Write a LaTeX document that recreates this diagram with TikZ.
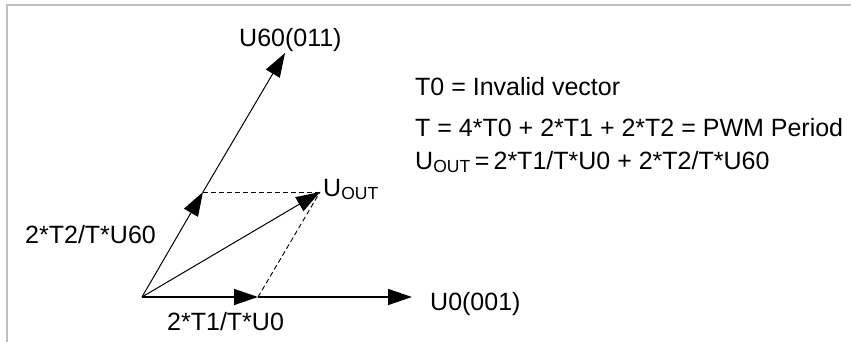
\documentclass[tikz,border=0pt]{standalone}
\usepackage{fontspec}
\setmainfont{Liberation Sans}
\usetikzlibrary{arrows.meta}
\begin{document}
\begin{tikzpicture}[x=1pt,y=-1pt,
  lbl/.style={font=\fontsize{25}{29}\selectfont, inner sep=0pt, anchor=base west},
  vec/.style={line width=1pt, -{Triangle[length=24pt,width=16pt]}},
  ln/.style={line width=1pt},
  dsh/.style={line width=0.9pt, dash pattern=on 5pt off 3pt}]
\useasboundingbox (0,0) rectangle (851,342);
\fill[white] (0,0) rectangle (851,342);
\draw[color={rgb,255:red,192;green,192;blue,192}, line width=2pt] (7,342) -- (7,5) -- (851,5);
% points
\coordinate (O) at (142,297);
\coordinate (A) at (258,297);
\coordinate (U0) at (412,297);
\coordinate (B) at (203,192);
\coordinate (U60) at (285,53);
\coordinate (P) at (320,192);
% vectors
\draw[vec, line width=1.4pt] (O) -- (A);
\draw[vec, line width=1.4pt] (A) -- (U0);
\draw[vec] (O) -- (B);
\draw[vec] (B) -- (U60);
\draw[vec] (O) -- (P);
\draw[dsh] (B) -- (P);
\draw[dsh] (A) -- (P);
% labels
\node[lbl] (l60) at (239,47) {U60(011)};
\node[lbl] (l0) at (430,310) {U0(001)};
\node[lbl] (lout) at (323,196) {U\textsubscript{OUT}};
\node[lbl] (lt2) at (25,243) {2*T2/T*U60};
\node[lbl] (lt1) at (167,330) {2*T1/T*U0};
\node[lbl] (e1) at (415,96) {T0 = Invalid vector};
\node[lbl] (e2) at (415,136) {T = 4*T0 + 2*T1 + 2*T2 = PWM Period};
\node[lbl] (e3) at (415,169) {U\textsubscript{OUT}\,=\,2*T1/T*U0 + 2*T2/T*U60};
\end{tikzpicture}
\end{document}
